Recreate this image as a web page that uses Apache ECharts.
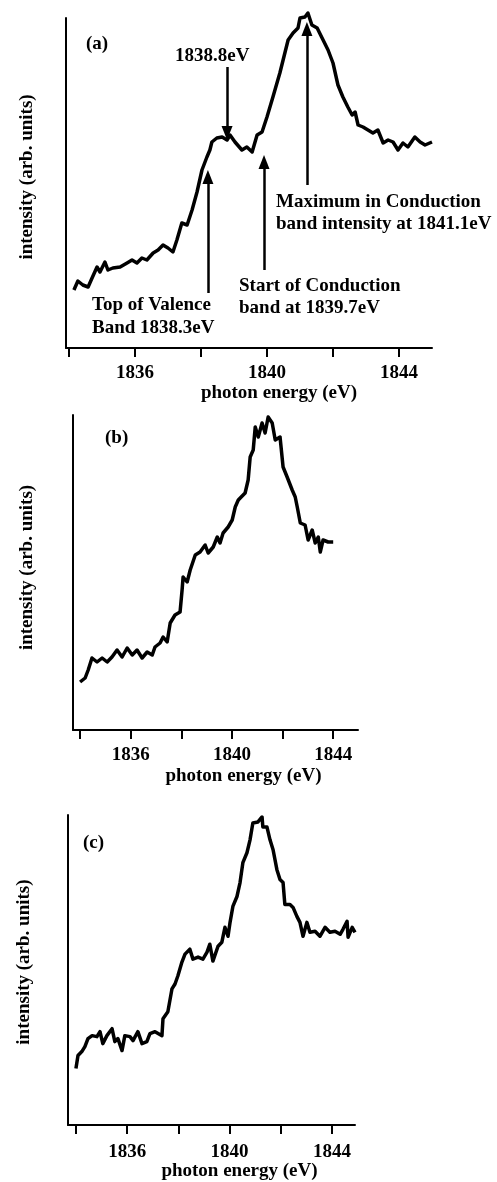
<!DOCTYPE html>
<html>
<head>
<meta charset="utf-8">
<script src="https://cdn.jsdelivr.net/npm/echarts@6/dist/echarts.min.js"></script>
<style>
  html, body { margin: 0; padding: 0; background: #fff; }
  #chart { width: 497px; height: 1182px; }
</style>
</head>
<body>
<div id="chart"></div>
<script>
// panel (a)
const energyA = [1834.15, 1834.27, 1834.42, 1834.58, 1834.70, 1834.85, 1834.94, 1835.09, 1835.18, 1835.33,
  1835.55, 1835.76, 1835.91, 1836.06, 1836.21, 1836.36, 1836.55, 1836.70, 1836.85, 1837.00,
  1837.15, 1837.27, 1837.42, 1837.58, 1837.73, 1837.88, 1838.03, 1838.18, 1838.27, 1838.33,
  1838.48, 1838.64, 1838.79, 1838.88, 1839.03, 1839.24, 1839.39, 1839.55, 1839.70, 1839.85,
  1840.00, 1840.18, 1840.39, 1840.64, 1840.79, 1840.94, 1841.00, 1841.15, 1841.24, 1841.36,
  1841.52, 1841.67, 1841.85, 1842.00, 1842.15, 1842.30, 1842.45, 1842.58, 1842.67, 1842.76,
  1842.91, 1843.06, 1843.21, 1843.36, 1843.52, 1843.67, 1843.82, 1843.97, 1844.12, 1844.27,
  1844.48, 1844.64, 1844.79, 1845.00];
const intensityA = [0.58, 0.67, 0.63, 0.61, 0.70, 0.81, 0.76, 0.86, 0.78, 0.80,
  0.81, 0.85, 0.88, 0.85, 0.90, 0.88, 0.95, 0.98, 1.03, 1.00,
  0.96, 1.08, 1.25, 1.23, 1.38, 1.56, 1.78, 1.91, 1.98, 2.06,
  2.10, 2.11, 2.08, 2.13, 2.06, 1.98, 2.01, 1.96, 2.13, 2.16,
  2.31, 2.51, 2.75, 3.08, 3.15, 3.20, 3.30, 3.31, 3.35, 3.23,
  3.20, 3.10, 2.98, 2.85, 2.63, 2.51, 2.41, 2.33, 2.36, 2.23,
  2.21, 2.18, 2.15, 2.18, 2.05, 2.08, 2.06, 1.98, 2.05, 2.01,
  2.11, 2.06, 2.03, 2.06];

// panel (b)
const energyB = [1834.00, 1834.20, 1834.32, 1834.47, 1834.67, 1834.87, 1835.07, 1835.26, 1835.46, 1835.66,
  1835.86, 1836.06, 1836.25, 1836.45, 1836.65, 1836.85, 1836.96, 1837.16, 1837.28, 1837.44,
  1837.56, 1837.75, 1837.95, 1838.03, 1838.07, 1838.23, 1838.35, 1838.55, 1838.74, 1838.94,
  1839.06, 1839.26, 1839.42, 1839.53, 1839.65, 1839.85, 1840.01, 1840.13, 1840.25, 1840.52,
  1840.64, 1840.72, 1840.84, 1840.92, 1841.04, 1841.19, 1841.31, 1841.43, 1841.59, 1841.71,
  1841.90, 1842.02, 1842.18, 1842.38, 1842.50, 1842.58, 1842.70, 1842.89, 1843.01, 1843.17,
  1843.29, 1843.41, 1843.49, 1843.60, 1843.80, 1844.00];
const intensityB = [0.48, 0.52, 0.60, 0.72, 0.68, 0.72, 0.68, 0.73, 0.80, 0.73,
  0.82, 0.75, 0.80, 0.72, 0.78, 0.75, 0.83, 0.87, 0.93, 0.88,
  1.07, 1.15, 1.18, 1.40, 1.53, 1.48, 1.60, 1.75, 1.78, 1.85,
  1.77, 1.83, 1.93, 1.87, 1.97, 2.03, 2.10, 2.23, 2.30, 2.37,
  2.50, 2.73, 2.80, 3.03, 2.93, 3.07, 2.97, 3.13, 3.07, 2.90,
  2.93, 2.63, 2.53, 2.40, 2.33, 2.23, 2.07, 2.05, 1.90, 2.00,
  1.87, 1.93, 1.78, 1.90, 1.88, 1.88];

// panel (c)
const energyC = [1834.00, 1834.08, 1834.23, 1834.35, 1834.47, 1834.63, 1834.82, 1834.94, 1835.05, 1835.21,
  1835.41, 1835.52, 1835.64, 1835.80, 1835.91, 1836.11, 1836.23, 1836.42, 1836.58, 1836.77,
  1836.89, 1837.09, 1837.36, 1837.40, 1837.59, 1837.75, 1837.87, 1837.98, 1838.14, 1838.26,
  1838.45, 1838.57, 1838.77, 1838.96, 1839.12, 1839.23, 1839.35, 1839.55, 1839.70, 1839.82,
  1839.94, 1840.02, 1840.13, 1840.29, 1840.41, 1840.52, 1840.68, 1840.80, 1840.91, 1841.11,
  1841.27, 1841.30, 1841.46, 1841.58, 1841.70, 1841.85, 1841.97, 1842.09, 1842.16, 1842.36,
  1842.48, 1842.63, 1842.75, 1842.87, 1843.02, 1843.14, 1843.34, 1843.53, 1843.73, 1843.92,
  1844.12, 1844.32, 1844.43, 1844.59, 1844.63, 1844.79, 1844.90];
const intensityC = [0.57, 0.70, 0.74, 0.79, 0.87, 0.90, 0.89, 0.94, 0.82, 0.90,
  0.97, 0.84, 0.87, 0.75, 0.90, 0.89, 0.85, 0.94, 0.82, 0.84,
  0.92, 0.94, 0.90, 1.07, 1.14, 1.37, 1.42, 1.50, 1.64, 1.72,
  1.77, 1.67, 1.69, 1.67, 1.74, 1.82, 1.65, 1.80, 1.84, 1.99,
  1.90, 2.04, 2.20, 2.30, 2.44, 2.64, 2.74, 2.87, 3.04, 3.05,
  3.10, 3.00, 3.00, 2.87, 2.77, 2.57, 2.47, 2.44, 2.22, 2.22,
  2.19, 2.10, 2.04, 1.90, 2.04, 1.94, 1.95, 1.90, 1.99, 1.94,
  1.95, 1.92, 1.97, 2.05, 1.89, 1.99, 1.94];

// tick marks and labelled ticks on the energy axes
const tickValues = [1834, 1836, 1838, 1840, 1842, 1844];
const labelValues = [1836, 1840, 1844];

// arrows in panel (a): [energy, from intensity, to intensity]
const arrowsA = [
  [1838.79, 2.81, 2.15],
  [1838.21, 0.55, 1.71],
  [1839.91, 0.78, 1.86],
  [1841.21, 1.63, 3.19]
];

const FONT = "'Liberation Serif', 'Times New Roman', serif";

const zip = (xs, ys) => xs.map((x, i) => [x, ys[i]]);

function xAxisFor(idx, min, max, margin, gap, shift) {
  return {
    type: 'value', gridIndex: idx, min: min, max: max,
    name: 'photon energy (eV)', nameLocation: 'middle', nameGap: gap,
    nameTextStyle: { fontFamily: FONT, fontSize: 19, fontWeight: 'bold', color: '#000', padding: [0, 0, 0, shift] },
    axisLine: { show: true, lineStyle: { color: '#000', width: 2 } },
    axisTick: { show: true, customValues: tickValues, length: 9, lineStyle: { color: '#000', width: 2 } },
    axisLabel: {
      customValues: labelValues, margin: margin, formatter: v => String(v),
      fontFamily: FONT, fontSize: 19, fontWeight: 'bold', color: '#000'
    },
    splitLine: { show: false }
  };
}

function yAxisFor(idx, max, gap, shift) {
  return {
    type: 'value', gridIndex: idx, min: 0, max: max,
    name: 'intensity (arb. units)', nameLocation: 'middle', nameGap: gap,
    nameTextStyle: { fontFamily: FONT, fontSize: 19, fontWeight: 'bold', color: '#000', padding: [0, 0, 0, shift] },
    axisLine: { show: true, lineStyle: { color: '#000', width: 2 } },
    axisTick: { show: false },
    axisLabel: { show: false },
    splitLine: { show: false }
  };
}

function lineSeries(idx, data, extra) {
  return Object.assign({
    type: 'line', xAxisIndex: idx, yAxisIndex: idx,
    data: data, showSymbol: false, clip: false, animation: false,
    lineStyle: { color: '#000', width: 3.5, join: 'round' }
  }, extra || {});
}

function textAt(x, y, text, lh) {
  return {
    type: 'text', x: x, y: y,
    style: { text: text, font: 'bold 19px ' + FONT, fill: '#000', lineHeight: lh || 22, verticalAlign: 'top' }
  };
}

const chart = echarts.init(document.getElementById('chart'), null, { renderer: 'canvas' });

chart.setOption({
  animation: false,
  backgroundColor: '#fff',
  grid: [
    { left: 66, top: 18, right: 65, bottom: 834 },
    { left: 73, top: 415, right: 139, bottom: 452 },
    { left: 68, top: 815, right: 142, bottom: 56 }
  ],
  xAxis: [
    xAxisFor(0, 1833.91, 1845.0, 16, 35, 60),
    xAxisFor(1, 1833.72, 1844.98, 16, 37, 56),
    xAxisFor(2, 1833.69, 1844.9, 17, 36, 56)
  ],
  yAxis: [
    yAxisFor(0, 3.30, 29, 12),
    yAxisFor(1, 3.15, 36, 10),
    yAxisFor(2, 3.12, 34, 16)
  ],
  series: [
    lineSeries(0, zip(energyA, intensityA), {
      markLine: {
        silent: true, animation: false,
        symbol: ['none', 'triangle'], symbolSize: [11, 14],
        label: { show: false },
        lineStyle: { color: '#000', width: 2.5, type: 'solid' },
        data: arrowsA.map(a => [{ coord: [a[0], a[1]] }, { coord: [a[0], a[2]] }])
      }
    }),
    lineSeries(1, zip(energyB, intensityB)),
    lineSeries(2, zip(energyC, intensityC))
  ],
  graphic: [
    textAt(86, 33, '(a)'),
    textAt(175, 45, '1838.8eV'),
    textAt(92, 294, 'Top of Valence\nBand 1838.3eV', 23),
    textAt(239, 275, 'Start of Conduction\nband at 1839.7eV', 22),
    textAt(276, 191, 'Maximum in Conduction\nband intensity at 1841.1eV', 22),
    textAt(105, 427, '(b)'),
    textAt(83, 832, '(c)')
  ]
});
</script>
</body>
</html>
